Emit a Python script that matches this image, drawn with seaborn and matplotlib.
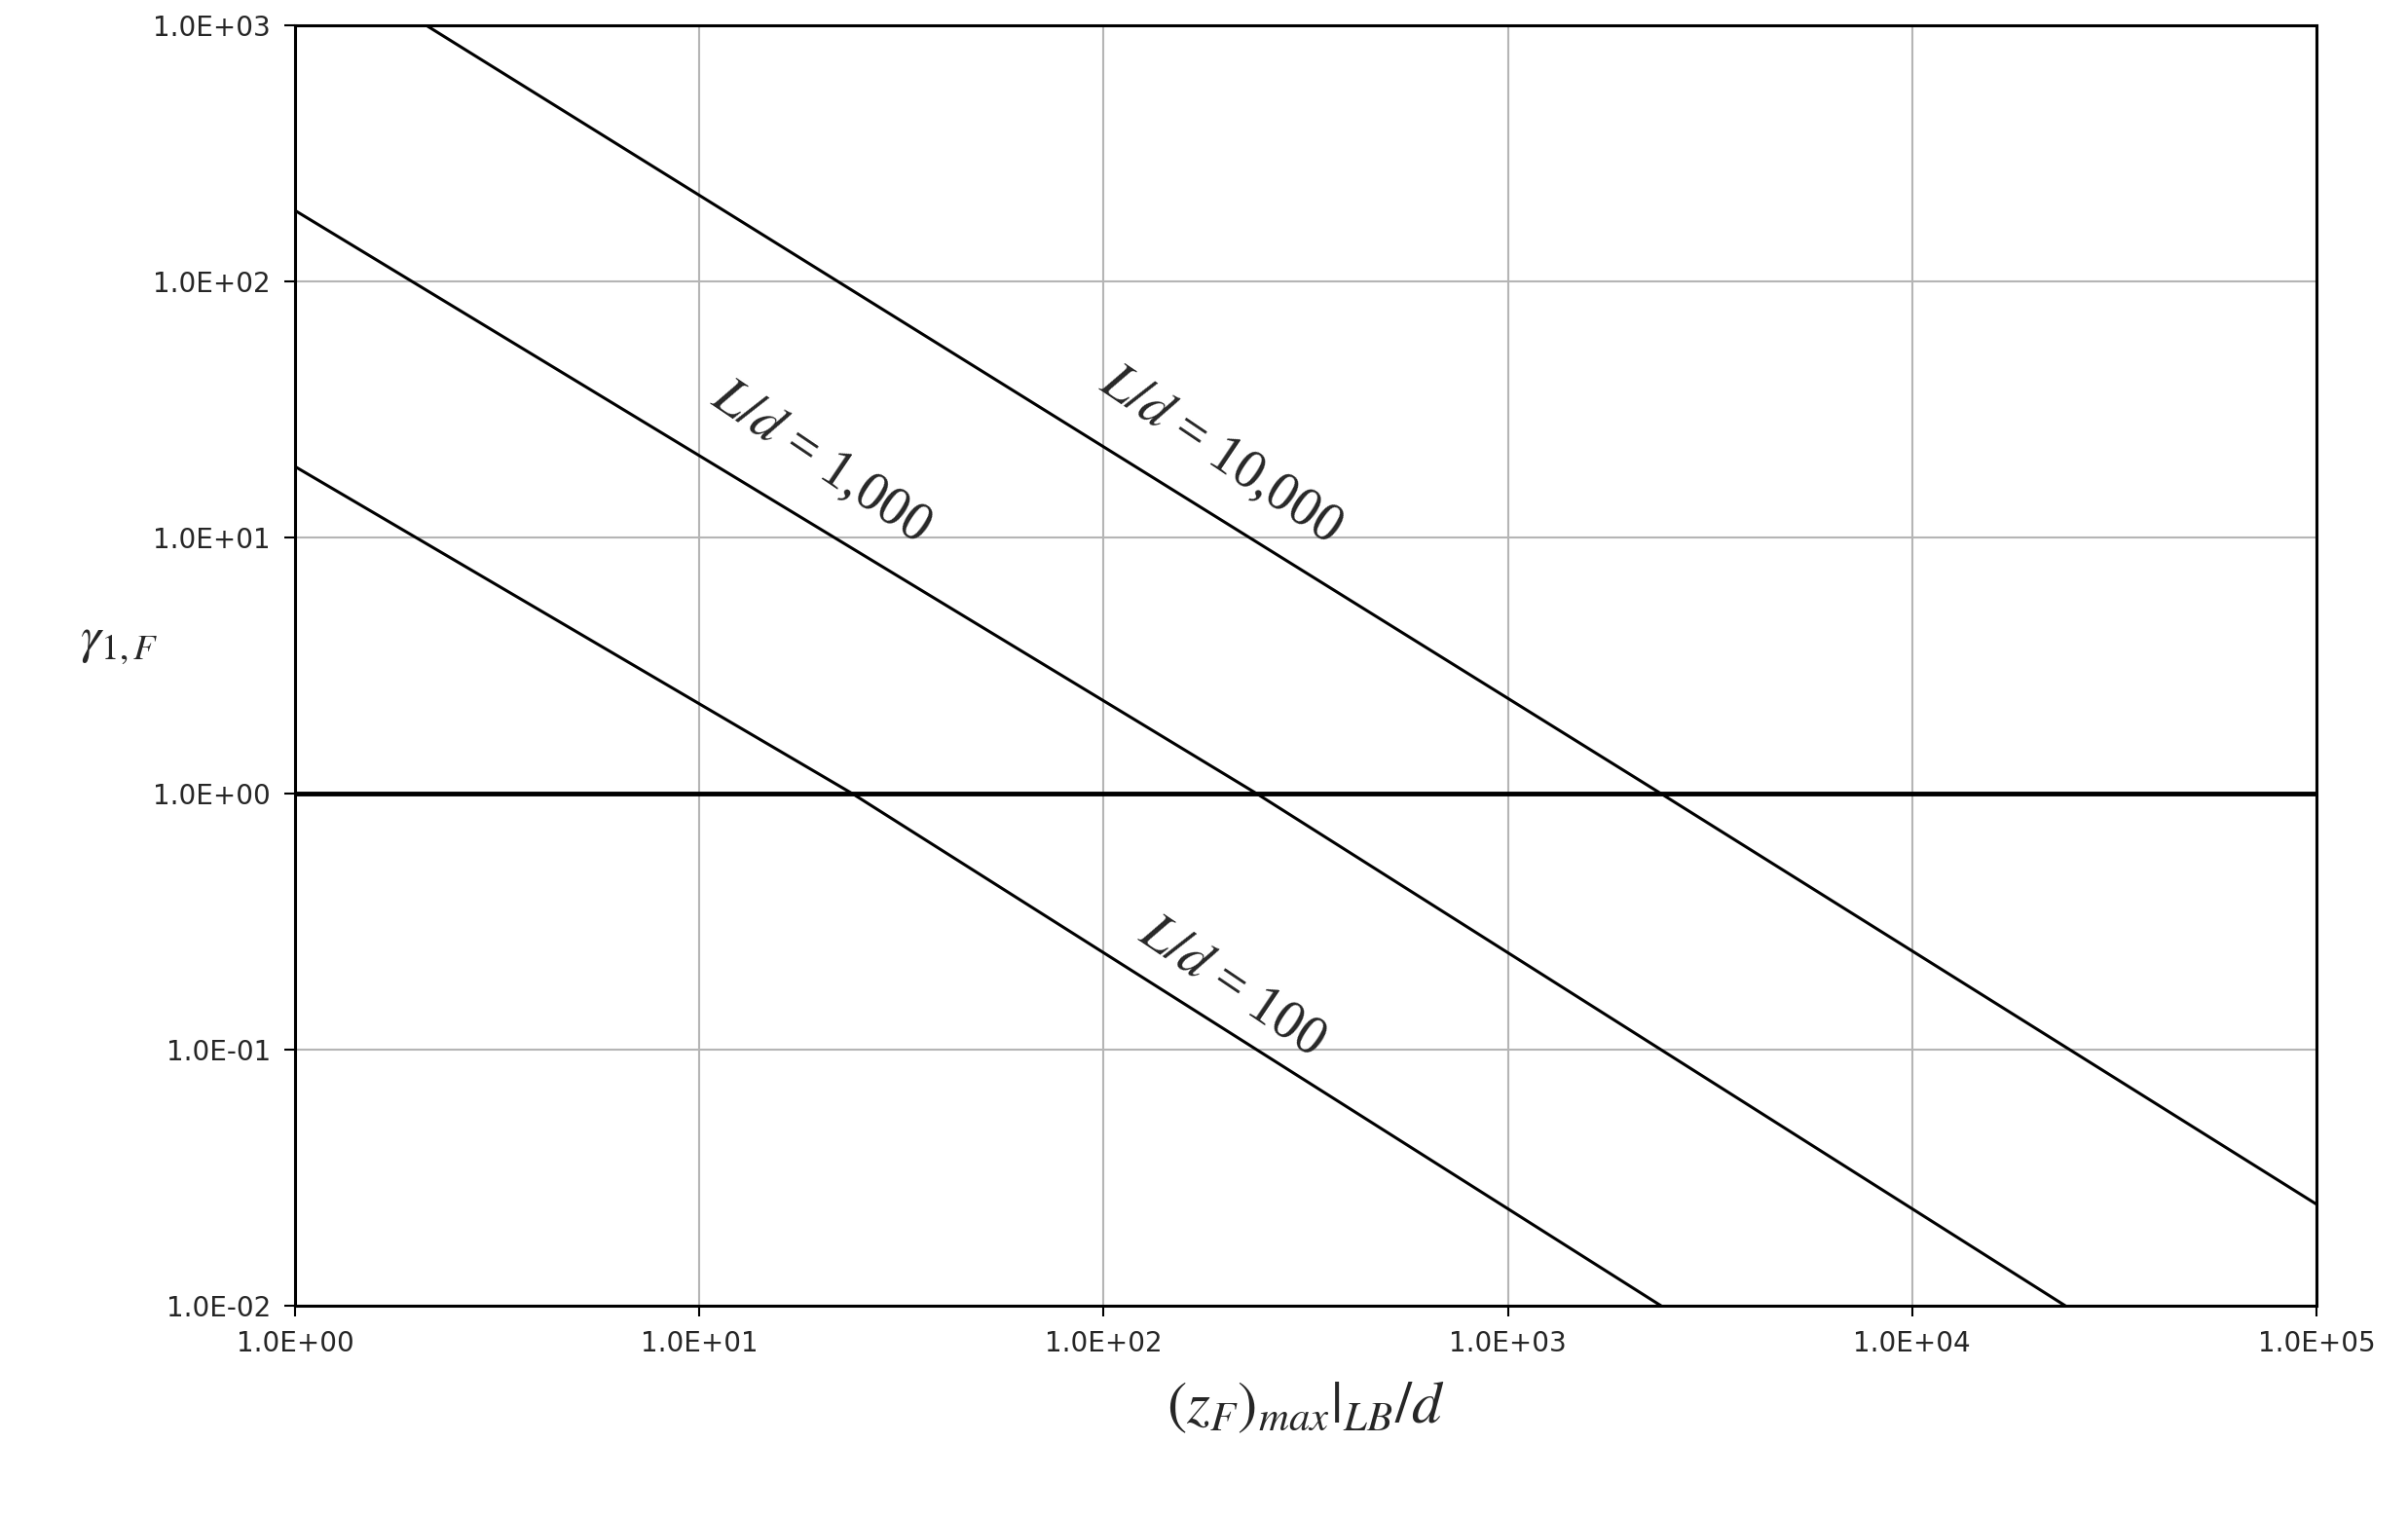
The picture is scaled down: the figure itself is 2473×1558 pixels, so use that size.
import matplotlib
matplotlib.use("Agg")
import matplotlib.pyplot as plt
import seaborn as sns
import pandas as pd
from matplotlib.ticker import FixedLocator, FuncFormatter

sns.set_theme(style="white")
plt.rcParams['font.family'] = ['DejaVu Sans']
plt.rcParams['mathtext.fontset'] = 'stix'

x_100 = [1, 24, 2400]
y_100 = [19, 1, 0.01]
x_1000 = [1, 240, 24000]
y_1000 = [190, 1, 0.01]
x_10000 = [2.12, 2400, 100000]
y_10000 = [1000, 1, 0.025]
labels = ["L/d = 100", "L/d = 1,000", "L/d = 10,000"]

df = pd.concat([
    pd.DataFrame({"x": x_100, "y": y_100, "s": labels[0]}),
    pd.DataFrame({"x": x_1000, "y": y_1000, "s": labels[1]}),
    pd.DataFrame({"x": x_10000, "y": y_10000, "s": labels[2]}),
])

fig = plt.figure(figsize=(24.73, 15.58), dpi=100)
ax = fig.add_axes([0.1225, 0.139, 0.8395, 0.844])
sns.lineplot(data=df, x="x", y="y", units="s", estimator=None, color="black",
             linewidth=2.2, ax=ax, legend=False)
ax.axhline(1, color="black", linewidth=3.5)
ax.set_xscale("log"); ax.set_yscale("log")
ax.set_xlim(1, 1e5); ax.set_ylim(1e-2, 1e3)
ax.xaxis.set_major_locator(FixedLocator([10.0**k for k in range(0, 6)]))
ax.yaxis.set_major_locator(FixedLocator([10.0**k for k in range(-2, 4)]))
ax.xaxis.set_minor_locator(FixedLocator([]))
ax.yaxis.set_minor_locator(FixedLocator([]))
fmt = FuncFormatter(lambda v, p: "%.1E" % v)
ax.xaxis.set_major_formatter(fmt); ax.yaxis.set_major_formatter(fmt)
ax.tick_params(labelsize=20, length=8, direction="out", bottom=True, left=True, color="black", width=1.5, pad=10)
ax.grid(True, color="#b5b5b5", linewidth=1.5)
for sp in ax.spines.values():
    sp.set_color("black"); sp.set_linewidth(2.2)
ax.set_xlabel(r"$\left(z_F\right)_{max}\left.\right|_{LB}/d$", fontsize=44, labelpad=15)
ax.set_ylabel(r"$\gamma_{1,F}$", fontsize=38, rotation=0, labelpad=25)

tf = dict(family="Liberation Serif", fontsize=40, rotation=-34, ha="center", va="center")
ax.text(208, 0.177, r"$L/d$ = 100", **tf)
ax.text(20, 19.7, r"$L/d$ = 1,000", **tf)
ax.text(195, 21, r"$L/d$ = 10,000", **tf)

fig.savefig("out.png", dpi=100)
